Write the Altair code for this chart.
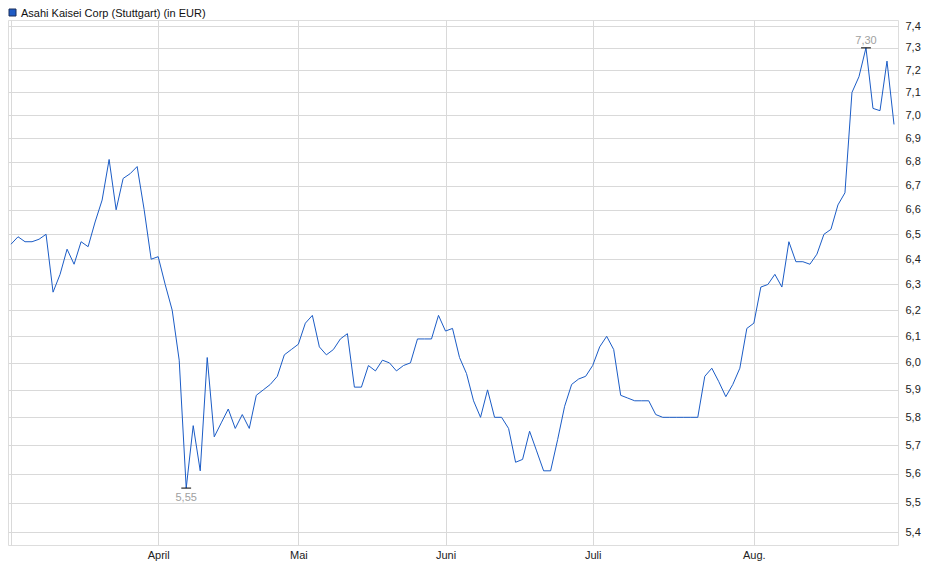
import altair as alt
import pandas as pd

# Daily closing prices (EUR), early March to end of August
prices = [
    6.46, 6.49, 6.47, 6.47, 6.48, 6.50, 6.27, 6.34, 6.44, 6.38,
    6.47, 6.45, 6.55, 6.64, 6.81, 6.60, 6.73, 6.75, 6.78, 6.60,
    6.40, 6.41, 6.30, 6.20, 6.01, 5.55, 5.77, 5.61, 6.02, 5.73,
    5.78, 5.83, 5.76, 5.81, 5.76, 5.88, 5.90, 5.92, 5.95, 6.03,
    6.05, 6.07, 6.15, 6.18, 6.06, 6.03, 6.05, 6.09, 6.11, 5.91,
    5.91, 5.99, 5.97, 6.01, 6.00, 5.97, 5.99, 6.00, 6.09, 6.09,
    6.09, 6.18, 6.12, 6.13, 6.02, 5.96, 5.86, 5.80, 5.90, 5.80,
    5.80, 5.76, 5.64, 5.65, 5.75, 5.68, 5.61, 5.61, 5.72, 5.84,
    5.92, 5.94, 5.95, 5.99, 6.06, 6.10, 6.05, 5.88, 5.87, 5.86,
    5.86, 5.86, 5.81, 5.80, 5.80, 5.80, 5.80, 5.80, 5.80, 5.95,
    5.98, 5.93, 5.875, 5.92, 5.98, 6.13, 6.15, 6.29, 6.30, 6.34,
    6.29, 6.47, 6.39, 6.39, 6.38, 6.42, 6.50, 6.52, 6.62, 6.67,
    7.10, 7.17, 7.30, 7.03, 7.02, 7.24, 6.96,
]
month_labels = ["April", "Mai", "Juni", "Juli", "Aug."]
month_index = [21, 41, 62, 83, 106]
y_ticks = [5.4, 5.5, 5.6, 5.7, 5.8, 5.9, 6.0, 6.1, 6.2, 6.3, 6.4,
           6.5, 6.6, 6.7, 6.8, 6.9, 7.0, 7.1, 7.2, 7.3, 7.4]
series_name = "Asahi Kaisei Corp (Stuttgart) (in EUR)"

FONT = "Liberation Sans"
LINE_COLOR = "#1b5cc6"
GRID = "#d9d9d9"

df = pd.DataFrame({"i": list(range(len(prices))), "v": prices})

imax = max(range(len(prices)), key=lambda k: prices[k])
imin = min(range(len(prices)), key=lambda k: prices[k])
ext = pd.DataFrame({
    "i": [imax, imin],
    "v": [prices[imax], prices[imin]],
    "lo": [imax - 0.7, imin - 0.7],
    "hi": [imax + 0.7, imin + 0.7],
    "label": [f"{prices[imax]:.2f}".replace(".", ","),
              f"{prices[imin]:.2f}".replace(".", ",")],
    "kind": ["max", "min"],
})

x_scale = alt.Scale(domain=[-0.43, 126.57], nice=False, zero=False)
y_scale = alt.Scale(type="log", domain=[5.3568, 7.4277], nice=False)

label_expr = "".join(
    f"datum.value == {m} ? '{lab}' : " for m, lab in zip(month_index, month_labels)
) + "''"

x_axis = alt.Axis(
    values=[0] + month_index, labelExpr=label_expr, grid=True, gridColor=GRID,
    ticks=False, domain=False, title=None, labelFont=FONT, labelFontSize=11,
    labelColor="#222222", labelPadding=4, labelFlush=False, labelOverlap=False,
)
y_axis = alt.Axis(
    orient="right", values=y_ticks,
    labelExpr="replace(format(datum.value, '.1f'), '.', ',')",
    grid=True, gridColor=GRID, ticks=False, domain=False, title=None,
    labelFont=FONT, labelFontSize=11, labelColor="#222222", labelPadding=7,
    labelOverlap=False, labelFlush=False,
)

base = alt.Chart(df)
line = base.mark_line(color=LINE_COLOR, strokeWidth=1, clip=True).encode(
    x=alt.X("i:Q", scale=x_scale, axis=x_axis),
    y=alt.Y("v:Q", scale=y_scale, axis=y_axis),
)

ext_base = alt.Chart(ext)
ticks = ext_base.mark_rule(color="#000000", strokeWidth=1).encode(
    x=alt.X("lo:Q", scale=x_scale), x2="hi:Q", y=alt.Y("v:Q", scale=y_scale)
)
max_text = ext_base.transform_filter("datum.kind == 'max'").mark_text(
    font=FONT, fontSize=11, color="#a0a0a0", baseline="bottom", dy=-2
).encode(x=alt.X("i:Q", scale=x_scale), y=alt.Y("v:Q", scale=y_scale), text="label:N")
min_text = ext_base.transform_filter("datum.kind == 'min'").mark_text(
    font=FONT, fontSize=11, color="#a0a0a0", baseline="top", dy=4
).encode(x=alt.X("i:Q", scale=x_scale), y=alt.Y("v:Q", scale=y_scale), text="label:N")

legend_df = pd.DataFrame({"name": [series_name]})
legend_box = alt.Chart(legend_df).mark_rect(
    fill="#1f5bc4", stroke="#1a2f5a", strokeWidth=1
).encode(x=alt.value(1), x2=alt.value(8), y=alt.value(-11), y2=alt.value(-4))
legend_text = alt.Chart(legend_df).mark_text(
    align="left", baseline="alphabetic", font=FONT, fontSize=11, color="#111111"
).encode(x=alt.value(13), y=alt.value(-3.5), text="name:N")

chart = alt.layer(line, ticks, max_text, min_text, legend_box, legend_text).properties(
    width=890, height=525,
    autosize=alt.AutoSizeParams(type="none"),
    padding={"left": 0, "top": 12, "right": 34, "bottom": 20},
).configure_view(stroke="#d4d4d4", strokeWidth=1).configure(background="white")

chart.save("out.html", embed_options={"renderer": "svg", "actions": False})
